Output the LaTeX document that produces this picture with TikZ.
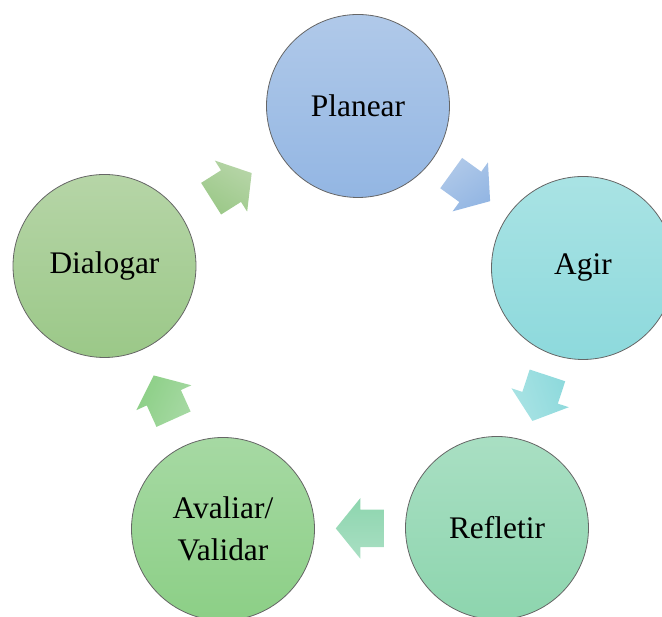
\documentclass[tikz,border=0pt]{standalone}
\usepackage{fontspec}
\setmainfont{Liberation Serif}
\usetikzlibrary{shapes.arrows,calc}

\definecolor{plTop}{HTML}{B0C9E9}\definecolor{plBot}{HTML}{93B6E3}
\definecolor{agTop}{HTML}{A9E3E4}\definecolor{agBot}{HTML}{8DD9DC}
\definecolor{reTop}{HTML}{A9DFC3}\definecolor{reBot}{HTML}{8DD5AE}
\definecolor{avTop}{HTML}{A6D9A3}\definecolor{avBot}{HTML}{8CCF86}
\definecolor{diTop}{HTML}{B6D5A7}\definecolor{diBot}{HTML}{9BC888}

\tikzset{
  stage/.style={circle,draw=black!60,line width=0.8pt,minimum size=183pt,
    inner sep=0pt,align=center,font=\fontsize{31.4}{42}\selectfont},
  cyclearrow/.style={single arrow,minimum height=48pt,inner xsep=0pt,
    inner ysep=18.5pt,single arrow head extend=11.5pt,
    single arrow tip angle=102,anchor=tail},
}

\begin{document}
\begin{tikzpicture}[x=1pt,y=1pt]
      \useasboundingbox (0,0) rectangle (662,617);
      \begin{scope}[every node/.style={stage}]
        \node[top color=plTop,bottom color=plBot] (pl) at (358,511) {Planear};
        \node[top color=agTop,bottom color=agBot] (ag) at (583,349) {Agir};
        \node[top color=reTop,bottom color=reBot] (re) at (497,89) {Refletir};
        \node[top color=avTop,bottom color=avBot] (av) at (223,88) {Avaliar/\\Validar};
        \node[top color=diTop,bottom color=diBot] (di) at (104.5,351) {Dialogar};
      \end{scope}
      \begin{scope}[every node/.style={cyclearrow}]
        \node[rotate=-35.8,top color=plTop,bottom color=plBot,shading angle=35.8] (pa) at ($(pl)!0.5!(ag)!24pt!(pl)$) {};
        \node[rotate=-108.3,top color=agTop,bottom color=agBot,shading angle=108.3] (ar) at ($(ag)!0.5!(re)!24pt!(ag)$) {};
        \node[rotate=180,top color=reTop,bottom color=reBot,shading angle=180] (rv) at ($(re)!0.5!(av)!24pt!(re)$) {};
        \node[rotate=114.3,top color=avTop,bottom color=avBot,shading angle=-114.3] (vd) at ($(av)!0.5!(di)!24pt!(av)$) {};
        \node[rotate=32.3,top color=diTop,bottom color=diBot,shading angle=-32.3] (dp) at ($(di)!0.5!(pl)!24pt!(di)$) {};
      \end{scope}
    \end{tikzpicture}
\end{document}
